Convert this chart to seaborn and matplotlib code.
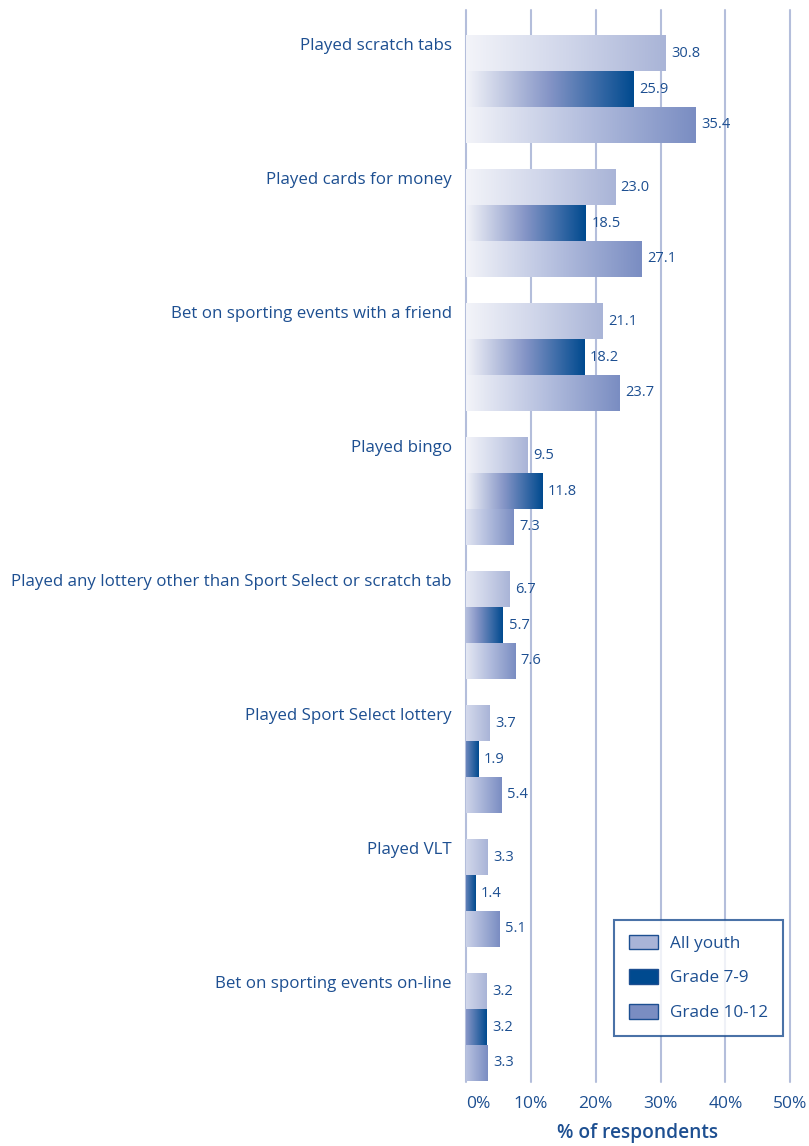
import numpy as np
import pandas as pd
import seaborn as sns
import matplotlib
matplotlib.use('Agg')
import matplotlib.pyplot as plt
from matplotlib.colors import to_rgb
from matplotlib.patches import Patch

categories = [
    'Played scratch tabs',
    'Played cards for money',
    'Bet on sporting events with a friend',
    'Played bingo',
    'Played any lottery other than Sport Select or scratch tab',
    'Played Sport Select lottery',
    'Played VLT',
    'Bet on sporting events on-line',
]
groups = ['All youth', 'Grade 7-9', 'Grade 10-12']
all_youth = [30.8, 23.0, 21.1, 9.5, 6.7, 3.7, 3.3, 3.2]
grade_7_9 = [25.9, 18.5, 18.2, 11.8, 5.7, 1.9, 1.4, 3.2]
grade_10_12 = [35.4, 27.1, 23.7, 7.3, 7.6, 5.4, 5.1, 3.3]
x_ticks = [0, 10, 20, 30, 40, 50]
x_tick_labels = ['0%', '10%', '20%', '30%', '40%', '50%']

TXT = '#1d4f91'
palette = {'All youth': '#a9b4d7', 'Grade 7-9': '#004a8f', 'Grade 10-12': '#7a8dc2'}
# colour halfway along the gradient (dark bar passes through a lavender blue, not teal)
mid_col = {'All youth': '#d0d6ea', 'Grade 7-9': '#8494c6', 'Grade 10-12': '#b6c0df'}

df = pd.DataFrame({
    'cat': categories * 3,
    'group': [g for g in groups for _ in categories],
    'val': all_youth + grade_7_9 + grade_10_12,
})

sns.set_style('white')
plt.rcParams['font.family'] = ['Open Sans', 'DejaVu Sans']

fig = plt.figure(figsize=(8.09, 11.46), dpi=100)
ax = fig.add_axes([466 / 809, 1 - 1082 / 1146, 343 / 809, 1072 / 1146])

sns.barplot(data=df, y='cat', x='val', hue='group', hue_order=groups, order=categories,
            palette=palette, orient='h', width=0.8, legend=False, ax=ax, errorbar=None)

# value labels before turning bars into gradients
for cont in ax.containers:
    ax.bar_label(cont, fmt='%.1f', padding=4, color=TXT, fontsize=10.5)

# gradient fill: light at 0, full colour at the bar end
light = np.array(to_rgb('#f3f4f9'))
for cont, g in zip(ax.containers, groups):
    col = np.array(to_rgb(palette[g]))
    mid = np.array(to_rgb(mid_col[g]))
    for p in cont:
        x0, y0, w, h = p.get_x(), p.get_y(), p.get_width(), p.get_height()
        # short bars start less pale
        k = min(1.0, (w + 3) / 12)
        t = np.linspace(0, 1, 256)
        s = (1 - k) + k * t  # position on the full gradient
        grad = np.where(s[:, None] < 0.5,
                        light + (mid - light) * (s[:, None] / 0.5),
                        mid + (col - mid) * ((s[:, None] - 0.5) / 0.5))
        ax.imshow(grad[None, :, :], extent=(x0, x0 + w, y0 + h, y0), aspect='auto',
                  interpolation='bilinear', zorder=3)
        p.set_visible(False)

ax.set_xlim(0, 52.9)
ax.set_ylim(7.41, -0.59)

for xv in x_ticks:
    ax.axvline(xv, color='#b4bedb', lw=1.5, zorder=1, clip_on=False)

for s in ax.spines.values():
    s.set_visible(False)

ax.set_yticks([])
ax.set_ylabel('')
ax.set_xticks(x_ticks)
ax.set_xticklabels(x_tick_labels, color=TXT, fontsize=12.5)
ax.get_xticklabels()[0].set_ha('left')
ax.tick_params(axis='x', length=0, pad=10)
ax.set_xlabel('% of respondents', color=TXT, fontsize=13.8, fontweight='semibold', labelpad=8)

for i, c in enumerate(categories):
    ax.text(-2.2, i - 0.32, c, ha='right', va='center', color=TXT, fontsize=12.2)

handles = [Patch(facecolor=palette[g], edgecolor=TXT, linewidth=1) for g in groups]
leg = ax.legend(handles, groups, loc='lower right', bbox_to_anchor=(0.924, 0.043),
                frameon=True, fancybox=False, fontsize=12.3, labelcolor=TXT,
                handlelength=1.7, handleheight=0.9, borderpad=0.85, labelspacing=1.05,
                handletextpad=0.75, borderaxespad=0)
leg.get_frame().set_edgecolor(TXT)
leg.get_frame().set_linewidth(1.5)
leg.set_zorder(5)

fig.savefig('out.png', dpi=100)
